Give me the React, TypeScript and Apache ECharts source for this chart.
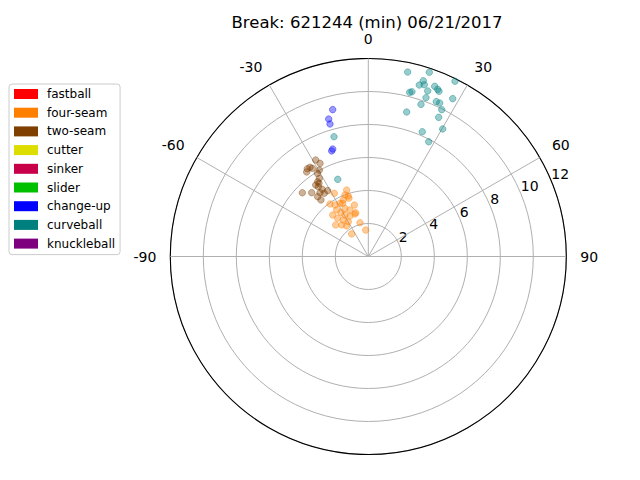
import React, { useEffect, useRef } from "react";
import * as echarts from "echarts";

const TITLE = "Break: 621244 (min) 06/21/2017";

const pitchTypes = [
  "fastball",
  "four-seam",
  "two-seam",
  "cutter",
  "sinker",
  "slider",
  "change-up",
  "curveball",
  "knuckleball",
];

const pitchColors = [
  "#ff0000",
  "#ff7f00",
  "#7f3f00",
  "#dddd00",
  "#c8004a",
  "#00c000",
  "#0000ff",
  "#007f7f",
  "#7f007f",
];

// [radius, angle in degrees (clockwise from top)]
const fastball: number[][] = [];
const fourSeam: number[][] = [
  [4.24, -18.0], [3.99, -20.75], [4.35, -28.28], [3.75, -23.87], [3.72, -18.35],
  [3.94, -36.11], [3.72, -32.89], [3.65, -28.01], [3.23, -15.21], [3.24, -25.8],
  [3.03, -21.48], [3.41, -34.2], [3.13, -31.94], [2.76, -16.05], [3.31, -40.62],
  [2.88, -29.31], [2.69, -24.31], [2.97, -38.7], [2.68, -34.41], [2.43, -29.89],
  [2.75, -45.98], [2.5, -40.18], [2.11, -13.8], [1.7, -36.42], [1.61, -5.6],
  [2.27, -35.31], [3.86, -18.29], [3.58, -25.69], [2.7, -17.38],
];
const twoSeam: number[][] = [
  [6.66, -28.59], [6.36, -27.39], [6.46, -33.17], [6.48, -34.79], [6.33, -32.41],
  [6.02, -29.54], [6.34, -36.09], [5.91, -31.51], [5.59, -32.07], [5.47, -34.08],
  [5.35, -33.96], [5.38, -36.34], [5.2, -35.62], [5.56, -45.97], [5.17, -41.58],
  [4.94, -34.39], [4.69, -31.68], [4.85, -37.13], [4.67, -34.85], [4.75, -40.24],
  [4.47, -39.94],
];
const cutter: number[][] = [];
const sinker: number[][] = [];
const slider: number[][] = [];
const changeUp: number[][] = [
  [9.16, -13.63], [8.67, -16.07], [8.36, -16.12], [6.86, -18.32], [6.77, -19.13],
];
const curveball: number[][] = [
  [11.43, 12.05], [11.76, 18.32], [11.85, 26.33], [11.16, 17.37], [10.84, 16.56],
  [10.95, 18.05], [11.07, 21.31], [10.97, 22.54], [10.89, 23.17], [10.33, 14.85],
  [10.26, 14.15], [10.66, 19.74], [10.24, 19.97], [10.85, 28.14], [10.25, 23.71],
  [10.26, 24.94], [9.76, 19.1], [9.95, 26.57], [9.06, 14.88], [9.45, 26.83],
  [8.95, 30.26], [8.24, 23.39], [7.86, 27.75], [7.55, -15.98], [5.03, -21.62],
];
const knuckleball: number[][] = [];

const seriesData = [
  fastball, fourSeam, twoSeam, cutter, sinker, slider, changeUp, curveball, knuckleball,
];

const gridAngles = [-90, -60, -30, 0, 30, 60, 90];
const angleLabels = [-90, -60, -30, 0, 30, 60, 90];
const radiusTicks = [2, 4, 6, 8, 10, 12];

const ANGLE_MIN = 67.5;
const toAxisAngle = (a: number) => (a < ANGLE_MIN ? a + 360 : a);

const withAlpha = (hex: string, a: number) => {
  const n = parseInt(hex.slice(1), 16);
  return `rgba(${(n >> 16) & 255},${(n >> 8) & 255},${n & 255},${a})`;
};

export default function App() {
  const ref = useRef<HTMLDivElement>(null);

  useEffect(() => {
    if (!ref.current) return;
    const chart = echarts.init(ref.current, undefined, { renderer: "svg" });

    const gridSeries = gridAngles.map((a) => ({
      type: "line",
      coordinateSystem: "polar",
      data: [
        [0, toAxisAngle(a)],
        [radiusTicks[radiusTicks.length - 1], toAxisAngle(a)],
      ],
      symbol: "none",
      silent: true,
      z: 1,
      lineStyle: { color: "#b0b0b0", width: 1 },
    }));

    const scatterSeries = pitchTypes.map((name, i) => ({
      name,
      type: "scatter",
      coordinateSystem: "polar",
      symbolSize: 6.5,
      z: 3,
      itemStyle: {
        color: withAlpha(pitchColors[i], 0.5),
        borderColor: withAlpha(pitchColors[i], 0.5),
        borderWidth: 1,
      },
      data: seriesData[i].map(([r, a]) => [r, toAxisAngle(a)]),
    }));

    chart.setOption({
      animation: false,
      backgroundColor: "#ffffff",
      textStyle: { fontFamily: "DejaVu Sans" },
      title: {
        text: TITLE,
        left: 367,
        top: 14.5,
        padding: 0,
        textAlign: "center",
        textStyle: {
          fontFamily: "DejaVu Sans",
          fontSize: 16.5,
          lineHeight: 16,
          fontWeight: "normal",
          color: "#000",
        },
      },
      legend: {
        orient: "vertical",
        left: 9,
        top: 84,
        data: pitchTypes.map((name, i) => ({
          name,
          itemStyle: { color: pitchColors[i], borderWidth: 0, opacity: 1 },
        })),
        icon: "rect",
        itemWidth: 24,
        itemHeight: 10,
        itemGap: 4.7,
        padding: [3, 5, 4, 5],
        borderColor: "#cccccc",
        borderWidth: 1,
        borderRadius: 3,
        selectedMode: false,
        textStyle: {
          fontFamily: "DejaVu Sans",
          fontSize: 12,
          color: "#000",
          lineHeight: 14,
          padding: [0, 0, 0, 4],
        },
      },
      polar: {
        center: [368.3, 256.5],
        radius: 198,
      },
      angleAxis: {
        type: "value",
        min: ANGLE_MIN,
        max: ANGLE_MIN + 360,
        interval: 7.5,
        startAngle: 22.5,
        clockwise: true,
        axisLine: { show: true, lineStyle: { color: "#000", width: 1.1 } },
        axisTick: { show: false },
        splitLine: { show: false },
        axisLabel: {
          show: true,
          margin: 14,
          lineHeight: 12,
          color: "#000",
          fontFamily: "DejaVu Sans",
          fontSize: 14,
          formatter: (v: number) => {
            const n = Math.round(v > 180 ? v - 360 : v);
            return angleLabels.indexOf(n) >= 0 && Math.abs(v - Math.round(v)) < 1e-6
              ? String(n)
              : "";
          },
        },
      },
      radiusAxis: {
        type: "value",
        min: 0,
        max: radiusTicks[radiusTicks.length - 1],
        interval: radiusTicks[1] - radiusTicks[0],
        axisLine: { show: false },
        axisTick: { show: false },
        splitLine: { show: true, lineStyle: { color: "#b0b0b0", width: 1 } },
        axisLabel: {
          show: true,
          margin: 0,
          align: "left",
          verticalAlign: "bottom",
          color: "#000",
          fontFamily: "DejaVu Sans",
          fontSize: 14,
          formatter: (v: number) => (radiusTicks.indexOf(v) >= 0 ? String(v) : ""),
        },
      },
      series: [...gridSeries, ...scatterSeries],
    });

    return () => chart.dispose();
  }, []);

  return (
    <div
      ref={ref}
      style={{ position: "absolute", left: 0, top: 0, width: 640, height: 480 }}
    />
  );
}
